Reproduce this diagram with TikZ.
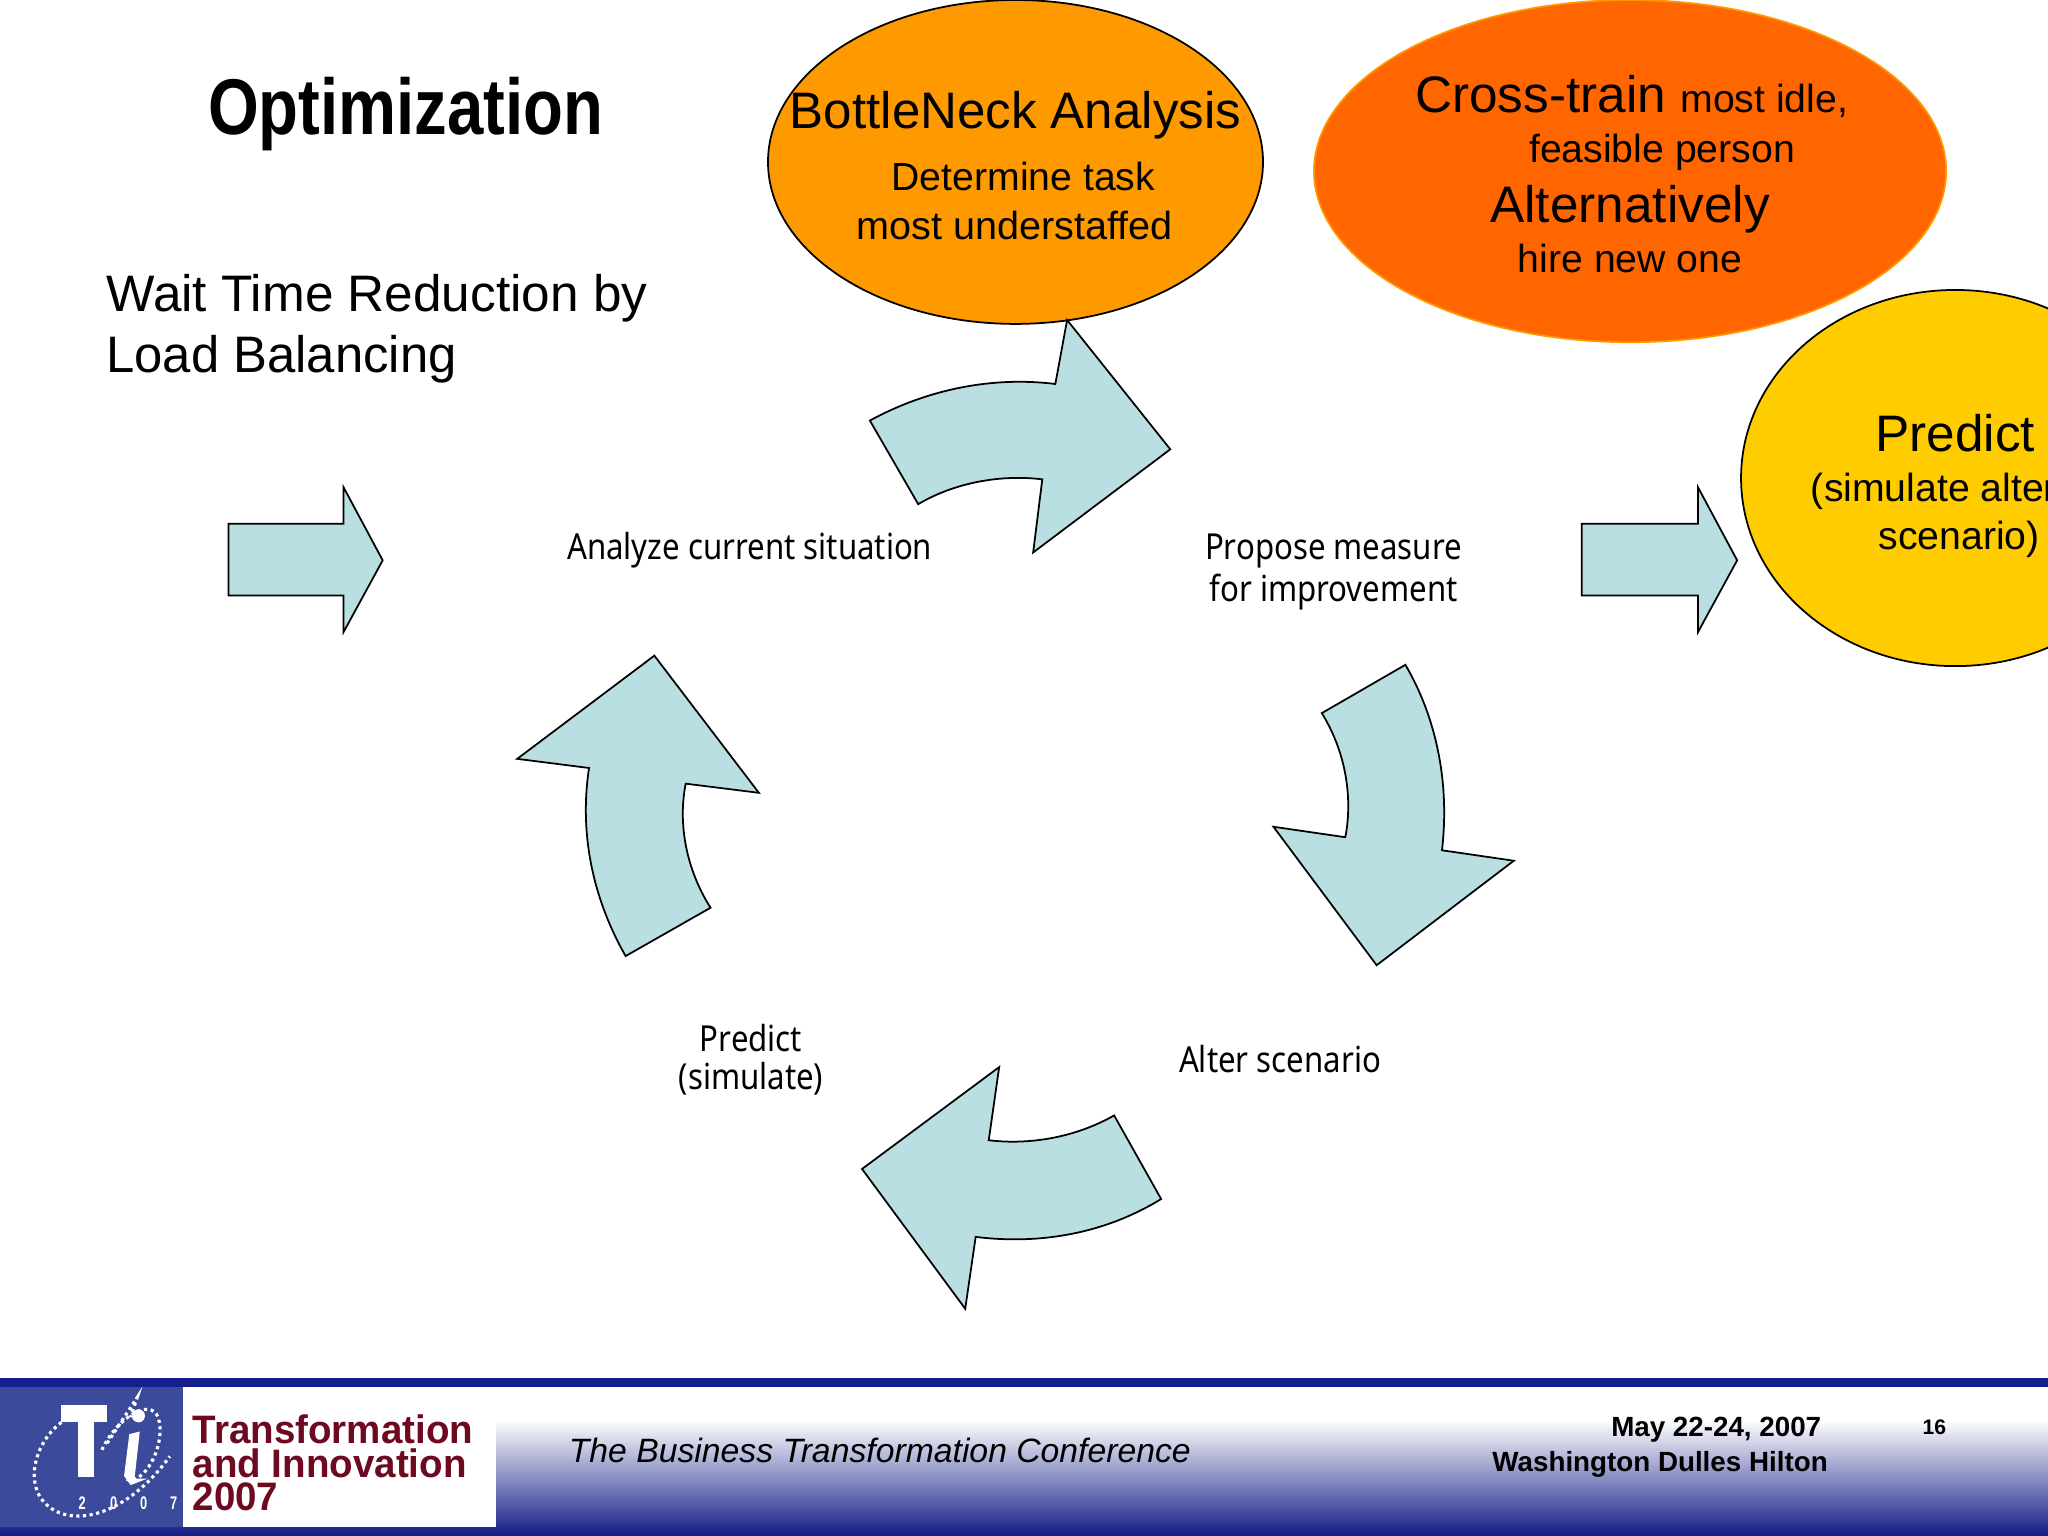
\documentclass[tikz,border=0pt]{standalone}
\usepackage{fontspec}
\usepackage{graphicx}
\setmainfont{Liberation Sans}
\newfontfamily\labelfont{Noto Sans}
\usetikzlibrary{shapes.geometric}
\definecolor{arrowfill}{HTML}{B9DFE3}
\definecolor{barblue}{HTML}{141E8C}
\definecolor{logoblue}{HTML}{3B4A9A}
\definecolor{logored}{HTML}{6E0A20}
\definecolor{ambercol}{HTML}{FF9900}
\definecolor{orangecol}{HTML}{FF6600}
\definecolor{yellowcol}{HTML}{FFCC00}
\newcommand{\lgtxt}{\fontsize{14.6pt}{16pt}\selectfont}
\newcommand{\mdtxt}{\fontsize{11.15pt}{13pt}\selectfont}
\newcommand{\sx}[2]{\scalebox{#1}[1]{#2}}
\newcommand{\lb}[1]{\sx{0.87}{#1}}
\tikzset{
  block/.style={draw=black,line width=0.5pt,fill=arrowfill,line join=miter},
  lab/.style={font=\labelfont\fontsize{10.2pt}{11.5pt}\selectfont,inner sep=0pt,text=black},
  bigt/.style={font=\lgtxt,inner sep=0pt,text=black},
  med/.style={font=\mdtxt,inner sep=0pt,text=black},
  foot/.style={font=\bfseries\fontsize{7.9pt}{9pt}\selectfont,inner sep=0pt,text=black},
  logotext/.style={font=\bfseries\fontsize{11.3pt}{12pt}\selectfont,inner sep=0pt,text=logored,anchor=west},
  logoline/.style={draw=white,line width=0.9pt,densely dotted},
  logoyear/.style={font=\bfseries\fontsize{5.2pt}{6pt}\selectfont,text=white,inner sep=0pt},
}
\begin{document}
\begin{tikzpicture}[x=0.0130612cm,y=-0.0130612cm]
\useasboundingbox (0,0) rectangle (1568,1176);
\clip (0,0) rectangle (1568,1176);
\fill[white] (0,0) rectangle (1568,1176);
% footer
\fill[top color=white,bottom color=barblue!95!black] (0,1087) rectangle (1568,1176);
\fill[barblue] (0,1055) rectangle (1568,1062);
\fill[white] (0,1062) rectangle (380,1169);
\fill[logoblue] (0,1062) rectangle (140,1169);
% logo
\fill[white] (47,1076) rectangle (82,1089);
\fill[white] (60,1089) rectangle (72,1131);
\draw[logoline] (47,1089) .. controls (25,1105) and (15,1145) .. (45,1158) .. controls (70,1168) and (105,1150) .. (130,1115);
\draw[logoline] (78,1110) .. controls (90,1085) and (115,1070) .. (121,1085) .. controls (128,1105) and (110,1140) .. (95,1132);
\draw[logoline] (82,1105) -- (105,1070) -- (100,1085);
\fill[white] (106,1084) circle (5);
\fill[white] (99,1098) -- (107,1096) -- (103,1132) -- (113,1132) -- (100,1137) -- (95,1130) -- cycle;
\node[logoyear] (ya) at (63,1151) {\sx{0.7}{2}};
\node[logoyear] (yb) at (87,1151) {\sx{0.7}{0}};
\node[logoyear] (yc) at (110,1151) {\sx{0.7}{0}};
\node[logoyear] (yd) at (133,1151) {\sx{0.7}{7}};
\node[logotext] (lt1) at (147,1094) {\sx{0.97}{Transformation}};
\node[logotext] (lt2) at (147,1120) {\sx{0.97}{and Innovation}};
\node[logotext] (lt3) at (147,1146) {\sx{0.97}{2007}};
\node[font=\itshape\fontsize{9.6pt}{11pt}\selectfont,inner sep=0pt,anchor=west] (conf) at (435,1110.5) {The Business Transformation Conference};
\node[foot] (date) at (1314,1094.5) {May 22-24, 2007};
\node[foot] (place) at (1271,1121) {Washington Dulles Hilton};
\node[foot,font=\bfseries\fontsize{6pt}{7pt}\selectfont] (pg) at (1481,1093) {16};
% ellipses
\draw[fill=ambercol,draw=black,line width=0.5pt] (777.5,124) ellipse [x radius=189.5,y radius=124];
\draw[fill=orangecol,draw=ambercol,line width=0.5pt] (1248,131) ellipse [x radius=242,y radius=131];
\draw[fill=yellowcol,draw=black,line width=0.5pt] (1497,366) ellipse [x radius=164,y radius=144];
% straight arrows
\draw[block] (175,401) -- (263,401) -- (263,373) -- (293,429) -- (263,484) -- (263,456) -- (175,456) -- cycle;
\draw[block] (1211,401) -- (1300,401) -- (1300,373) -- (1330,429) -- (1300,484) -- (1300,456) -- (1211,456) -- cycle;
% curved arrows
\draw[block] (666,322) .. controls (710,298) and (760,288) .. (808,294) -- (817,245) -- (896,344) -- (791,423) -- (798,367) .. controls (765,363) and (730,370) .. (703,386) -- cycle;
\draw[block] (1076,509) .. controls (1100,550) and (1110,600) .. (1104,651) -- (1159,659) -- (1054,739) -- (975,633) -- (1030,641) .. controls (1036,610) and (1030,575) .. (1012,546) -- cycle;
\draw[block] (889,918) .. controls (845,945) and (795,953) .. (747,947) -- (739,1002) -- (660,895) -- (765,817) -- (757,873) .. controls (790,877) and (825,870) .. (853,854) -- cycle;
\draw[block] (479,732) .. controls (455,690) and (443,640) .. (451,588) -- (396,581) -- (501,502) -- (581,607) -- (525,600) .. controls (519,630) and (525,665) .. (544,695) -- cycle;
% texts
\node[font=\bfseries\fontsize{22.5pt}{24pt}\selectfont,inner sep=0pt] (title) at (310.5,87) {\sx{0.825}{Optimization}};
\node[bigt,anchor=west] (w1) at (81,228) {Wait Time Reduction by};
\node[bigt,anchor=west] (w2) at (81,275) {\sx{0.99}{Load Balancing}};
\node[bigt] (bn) at (777.5,88) {\sx{0.995}{BottleNeck Analysis}};
\node[med] (bn2) at (783.5,135) {Determine task};
\node[med] (bn3) at (777,173) {\sx{1.01}{most understaffed}};
\node[inner sep=0pt,anchor=base west] (ct1) at (1083,86) {\lgtxt Cross-train \mdtxt most idle,};
\node[med] (ct2) at (1272.5,117) {feasible person};
\node[bigt] (ct3) at (1248,160) {Alternatively};
\node[med] (ct4) at (1248,198) {hire new one};
\node[bigt] (pr1) at (1497,332) {Predict};
\node[med,anchor=west] (pr2) at (1386,376) {(simulate altered};
\node[med] (pr3) at (1500,413) {scenario)};
\node[lab] (l1) at (574,421) {\lb{Analyze current situation}};
\node[lab] (l2a) at (1021,422) {\lb{Propose measure}};
\node[lab] (l2b) at (1021,453) {\lb{for improvement}};
\node[lab] (l3) at (980,811) {\lb{Alter scenario}};
\node[lab] (l4a) at (575,795) {\lb{Predict}};
\node[lab] (l4b) at (575,826) {\lb{(simulate)}};
\end{tikzpicture}
\end{document}
